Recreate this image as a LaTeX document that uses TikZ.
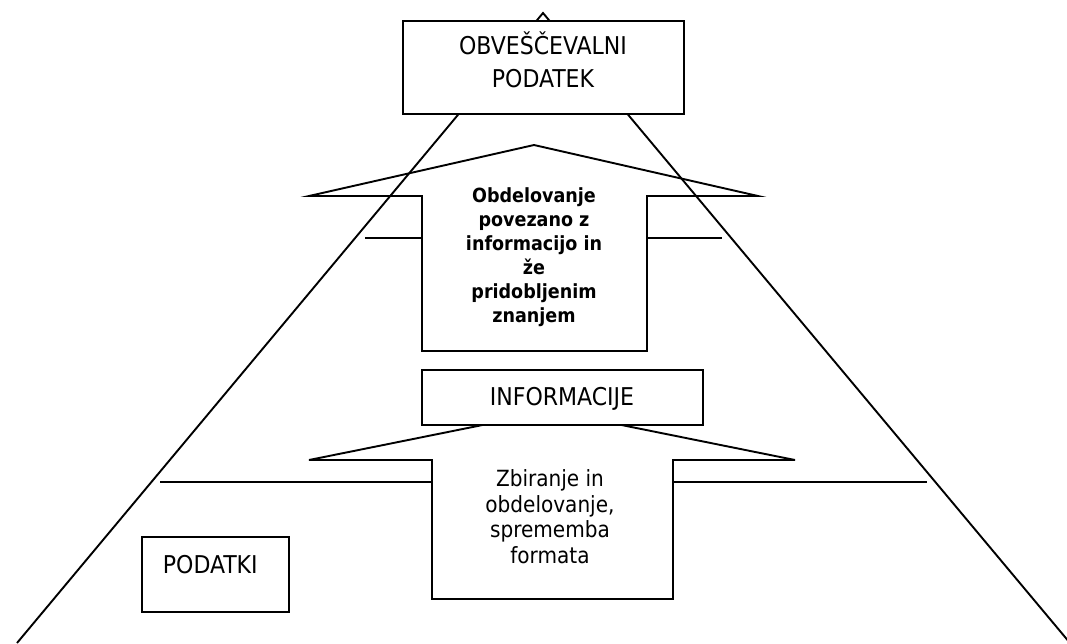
\documentclass[tikz,border=0pt]{standalone}
\usepackage{fontspec}
\setmainfont{DejaVu Sans Condensed}
\begin{document}
\begin{tikzpicture}[x=1pt,y=-1pt, line width=1.9pt, line join=miter,
  box/.style={draw, fill=white, inner sep=0pt},
  caps/.style={inner sep=0pt, anchor=base, font=\fontsize{24.5}{30}\selectfont},
  boldtxt/.style={inner sep=0pt, anchor=base, font=\fontsize{19.5}{24}\selectfont\bfseries},
  regtxt/.style={inner sep=0pt, anchor=base, font=\fontsize{22.3}{26}\selectfont},
]
\useasboundingbox (0,0) rectangle (1067,643);
% big triangle
\coordinate (apex) at (543,13);
\coordinate (bl) at (17,643);
\coordinate (br) at (1070,643);
\begin{scope}
\clip (0,0) rectangle (1067,643);
\draw (bl) -- (apex) -- (br);
\end{scope}
% upper arrow
\coordinate (ua1) at (422,351);
\coordinate (ua2) at (422,196);
\coordinate (ua3) at (309,196);
\coordinate (uatip) at (534,145);
\coordinate (ua5) at (758,196);
\coordinate (ua6) at (647,196);
\coordinate (ua7) at (647,351);
\draw (ua1) -- (ua2) -- (ua3) -- (uatip) -- (ua5) -- (ua6) -- (ua7) -- cycle;
\coordinate (uhl) at (365,238);
\coordinate (uhl2) at (422,238);
\coordinate (uhr) at (647,238);
\coordinate (uhr2) at (722,238);
\draw (uhl) -- (uhl2);
\draw (uhr) -- (uhr2);
% lower arrow
\coordinate (la1) at (432,599);
\coordinate (la2) at (432,460);
\coordinate (la3) at (309,460);
\coordinate (latip) at (552,411);
\coordinate (la5) at (795,460);
\coordinate (la6) at (673,460);
\coordinate (la7) at (673,599);
\draw (la1) -- (la2) -- (la3) -- (latip) -- (la5) -- (la6) -- (la7) -- cycle;
\coordinate (lhl) at (160,482);
\coordinate (lhl2) at (432,482);
\coordinate (lhr) at (673,482);
\coordinate (lhr2) at (927,482);
\draw (lhl) -- (lhl2);
\draw (lhr) -- (lhr2);
% boxes
\node[box, minimum width=281pt, minimum height=93pt] (obv) at (543.5,67.5) {};
\node[box, minimum width=281pt, minimum height=55pt] (inf) at (562.5,397.5) {};
\node[box, minimum width=147pt, minimum height=75pt] (pod) at (215.5,574.5) {};
% texts
\node[caps] (obv1) at (543,54) {OBVEŠČEVALNI};
\node[caps] (obv2) at (543,87) {PODATEK};
\node[caps] (inft) at (562,405) {INFORMACIJE};
\node[caps, anchor=base west] (podt) at (162,573) {PODATKI};
\node[boldtxt] (b1) at (534,202) {Obdelovanje};
\node[boldtxt] (b2) at (534,226) {povezano z};
\node[boldtxt] (b3) at (534,250) {informacijo in};
\node[boldtxt] (b4) at (534,274) {že};
\node[boldtxt] (b5) at (534,298) {pridobljenim};
\node[boldtxt] (b6) at (534,322) {znanjem};
\node[regtxt] (r1) at (550,486) {Zbiranje in};
\node[regtxt] (r2) at (550,512) {obdelovanje,};
\node[regtxt] (r3) at (550,537) {sprememba};
\node[regtxt] (r4) at (550,563) {formata};
\end{tikzpicture}
\end{document}
